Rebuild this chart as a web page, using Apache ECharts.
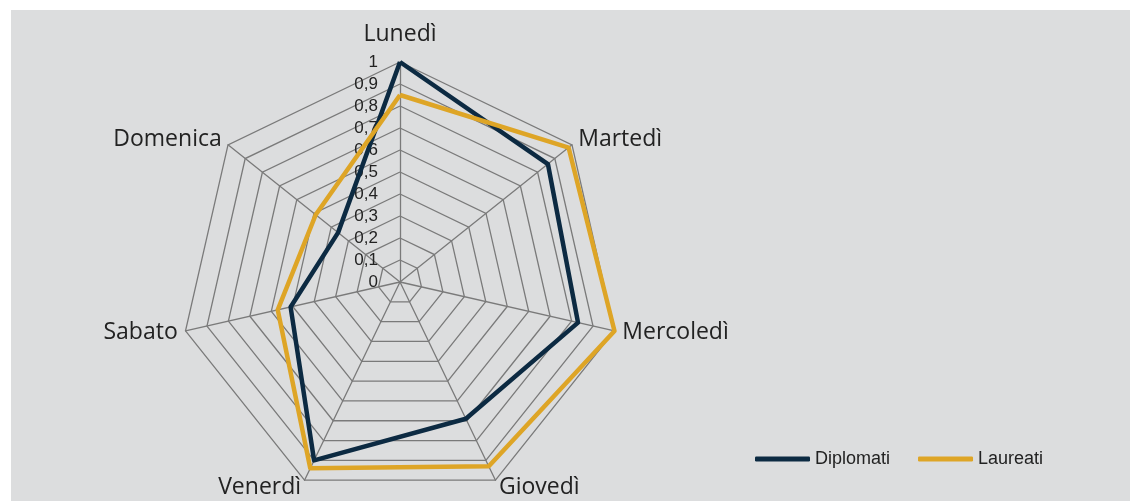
<!DOCTYPE html>
<html>
<head>
<meta charset="utf-8">
<script src="https://cdn.jsdelivr.net/npm/echarts@6/dist/echarts.min.js"></script>
<style>
  html, body { margin: 0; padding: 0; background: #ffffff; }
  #chart { position: absolute; left: 11px; top: 10px; width: 1119px; height: 491px; }
</style>
</head>
<body>
<div id="chart"></div>
<script>
// giorni della settimana
var giorni = ['Lunedì', 'Martedì', 'Mercoledì', 'Giovedì', 'Venerdì', 'Sabato', 'Domenica'];
// valori
var diplomati = [1.0, 0.86, 0.83, 0.69, 0.9, 0.51, 0.36];
var laureati = [0.85, 0.98, 1.0, 0.93, 0.94, 0.57, 0.49];
var tickMax = 1;

// il radar di echarts gira in senso antiorario: riordino per avere senso orario
var ordine = [0, 6, 5, 4, 3, 2, 1];
function riordina(arr) { return ordine.map(function (i) { return arr[i]; }); }

var myChart = echarts.init(document.getElementById('chart'));
myChart.setOption({
  backgroundColor: '#dcddde',
  legend: {
    left: 739,
    top: 435,
    itemWidth: 55,
    itemHeight: 5,
    itemGap: 28,
    icon: 'roundRect',
    textStyle: { fontFamily: 'Liberation Sans', fontSize: 18, color: '#222' },
    data: ['Diplomati', 'Laureati']
  },
  radar: {
    center: [389, 272],
    radius: 220,
    startAngle: 90,
    splitNumber: 10,
    nameGap: 8,
    axisName: {
      color: '#222',
      fontFamily: 'Open Sans',
      fontSize: 23,
      formatter: function (n) { return n === 'Lunedì' ? '{top|' + n + '}' : n; },
      rich: { top: { fontFamily: 'Open Sans', fontSize: 23, color: '#222', padding: [0, 0, 8, 0] } }
    },
    axisLine: { lineStyle: { color: '#7a7a7a', width: 1.3 } },
    splitLine: { lineStyle: { color: '#7a7a7a', width: 1.3 } },
    splitArea: { show: false },
    axisTick: { show: false },
    axisLabel: {
      show: true,
      margin: 22,
      color: '#222',
      fontFamily: 'Liberation Sans',
      fontSize: 17,
      formatter: function (v) { return String(Math.round(v * 10) / 10).replace('.', ','); }
    },
    indicator: riordina(giorni).map(function (g, i) {
      var ind = { name: g, min: 0, max: tickMax };
      if (i > 0) ind.axisLabel = { show: false };
      return ind;
    })
  },
  series: [{
    type: 'radar',
    symbol: 'none',
    data: [
      { name: 'Diplomati', value: riordina(diplomati), lineStyle: { color: '#0c2a42', width: 4.5 }, itemStyle: { color: '#0c2a42' } },
      { name: 'Laureati', value: riordina(laureati), lineStyle: { color: '#dea526', width: 4.5 }, itemStyle: { color: '#dea526' } }
    ]
  }]
});
</script>
</body>
</html>
